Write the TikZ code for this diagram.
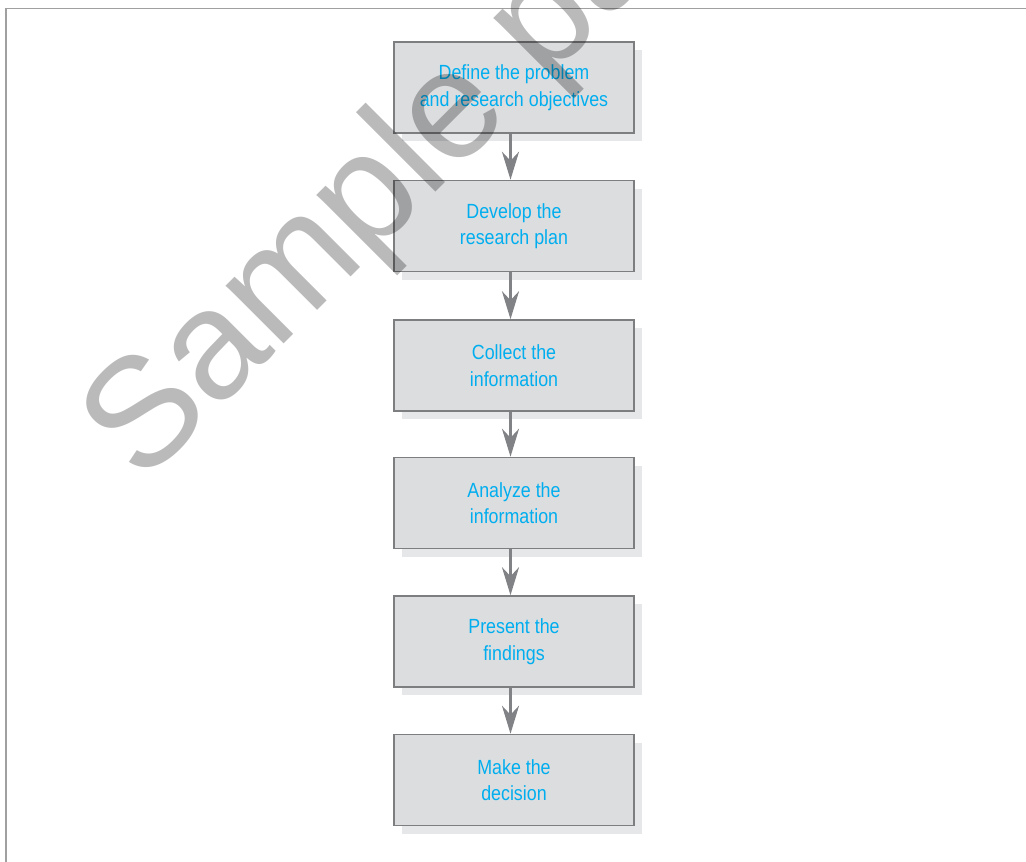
\documentclass[tikz,border=0pt]{standalone}
\usepackage{fontspec}
\setmainfont{Liberation Sans}
\newfontfamily\condfont[FakeStretch=0.87]{Liberation Sans}
\usetikzlibrary{arrows.meta,shadows}
\definecolor{boxfill}{HTML}{DCDDDF}
\definecolor{boxline}{HTML}{7D7E80}
\definecolor{boxshade}{HTML}{E6E7E8}
\definecolor{arrowgray}{HTML}{808285}
\definecolor{labelblue}{HTML}{00AEEF}
\definecolor{framegray}{HTML}{A0A0A0}

\begin{document}
\begin{tikzpicture}[x=1pt,y=-1pt,
    stage/.style={draw=boxline,line width=1.5pt,fill=boxfill,minimum width=240pt,minimum height=91pt,
      inner sep=0pt,align=center,text=labelblue,font=\condfont\fontsize{20.5}{26.4}\selectfont,
      drop shadow={shadow xshift=8pt,shadow yshift=-8pt,fill=boxshade,opacity=1}},
    flow/.style={draw=arrowgray,line width=3pt,-{Stealth[length=28pt,width=17pt,inset=9pt]}}]
                \useasboundingbox (0,0) rectangle (1026,862);
                \clip (0,0) rectangle (1026,862);
                \draw[framegray,line width=1.6pt] (6,862) -- (6,8.5) -- (1026,8.5);

                \node[stage] (def) at (514,87.5) {Define the problem\\and research objectives};
                \node[stage] (dev) at (514,226) {Develop the\\research plan};
                \node[stage] (col) at (514,365.5) {Collect the\\information};
                \node[stage] (ana) at (514,503) {Analyze the\\information};
                \node[stage] (pre) at (514,641.5) {Present the\\findings};
                \node[stage] (mak) at (514,780) {Make the\\decision};

                \draw[flow] ([xshift=-3.5pt]def.south) to ([xshift=-3.5pt]dev.north);
                \draw[flow] ([xshift=-3.5pt]dev.south) to ([xshift=-3.5pt]col.north);
                \draw[flow] ([xshift=-3.5pt]col.south) to ([xshift=-3.5pt]ana.north);
                \draw[flow] ([xshift=-3.5pt]ana.south) to ([xshift=-3.5pt]pre.north);
                \draw[flow] ([xshift=-3.5pt]pre.south) to ([xshift=-3.5pt]mak.north);

                \node[rotate=45,anchor=base west,inner sep=0pt,text=black,text opacity=0.27,
                  font=\fontsize{155}{155}\selectfont] (wm) at (142,486) {Sample pages};
            \end{tikzpicture}
\end{document}
